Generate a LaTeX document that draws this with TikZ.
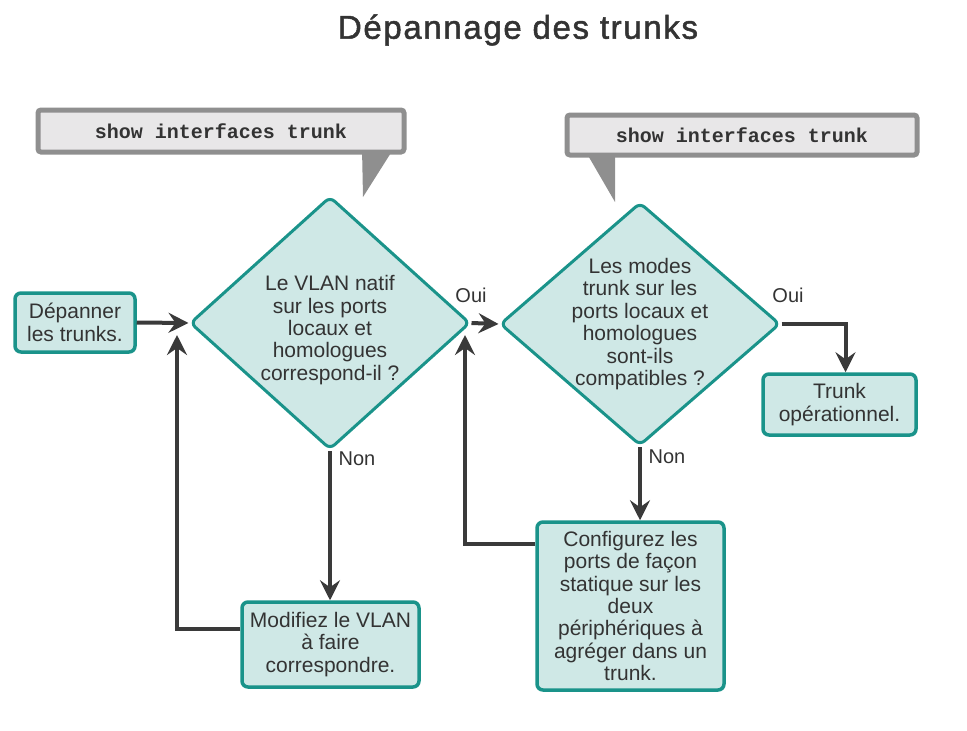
\documentclass[tikz,border=0pt]{standalone}
\usepackage{fontspec}
\setmainfont{Liberation Sans}
\setmonofont{Liberation Mono}
\usetikzlibrary{shapes.geometric,arrows.meta,calc}
\definecolor{teal1}{HTML}{1A938A}
\definecolor{tealfill}{HTML}{CFE8E6}
\definecolor{txt}{HTML}{333333}
\definecolor{arrc}{HTML}{3A3A3A}
\definecolor{calfill}{HTML}{E8E7E8}
\definecolor{calbord}{HTML}{8F8F8F}
\begin{document}
\begin{tikzpicture}[x=1pt,y=-1pt,
  box/.style={draw=teal1,fill=tealfill,line width=3.5pt,rounded corners=6pt,align=center,text=txt,font=\fontsize{21}{22.4}\selectfont,inner sep=0pt},
  dec/.style={diamond,draw=teal1,fill=tealfill,line width=3pt,rounded corners=6pt,inner sep=0pt},
  dtext/.style={align=center,text=txt,font=\fontsize{21}{22.4}\selectfont,inner sep=0pt},
  arr/.style={draw=arrc,line width=4pt,-{Stealth[length=20pt,width=20pt,inset=7pt]}},
  lab/.style={text=txt,font=\fontsize{20}{20}\selectfont,inner sep=0pt},
  callout/.style={draw=calbord,fill=calfill,line width=5pt,rounded corners=3pt,font=\ttfamily\bfseries\fontsize{20}{24}\selectfont,text=txt,inner sep=0pt},
]
\useasboundingbox (0,0) rectangle (967,731);
\node[text=txt,font=\addfontfeature{FakeBold=1.5,LetterSpace=5}\fontsize{33}{36}\selectfont] (title) at (518,30) {Dépannage des trunks};

% callouts
\fill[calbord] (362,148) -- (394,148) -- (363,197) -- cycle;
\node[callout,minimum width=366pt,minimum height=42pt] (c1) at (221,131) {show interfaces trunk};
\fill[calbord] (586,152) -- (615,152) -- (615,202) -- cycle;
\node[callout,minimum width=350pt,minimum height=40pt] (c2) at (742,135) {show interfaces trunk};

% diamonds
\node[dec,minimum width=280pt,minimum height=253pt] (d1) at (330,323) {};
\node[dtext] (t1) at (330,330) {Le VLAN natif\\sur les ports\\locaux et\\homologues\\correspond-il ?};
\node[dec,minimum width=280pt,minimum height=243pt] (d2) at (640,324) {};
\node[dtext] (t2) at (640,324) {Les modes\\trunk sur les\\ports locaux et\\homologues\\sont-ils\\compatibles ?};

% boxes
\node[box,minimum width=120pt,minimum height=59pt] (start) at (75,322.5) {Dépanner\\les trunks.};
\node[box,minimum width=153pt,minimum height=61pt] (trk) at (839.5,404.5) {Trunk\\opérationnel.};
\node[box,minimum width=177pt,minimum height=85pt] (mod) at (330.5,644.5) {Modifiez le VLAN\\à faire\\correspondre.};
\node[box,minimum width=187pt,minimum height=168pt] (cfg) at (630.5,606) {Configurez les\\ports de façon\\statique sur les\\deux\\périphériques à\\agréger dans un\\trunk.};

% connectors
\coordinate (up1) at (177,335);
\coordinate (up2) at (465,335);
\draw[arr] (start.east) -- (d1.west);
\draw[arr] (d1.south) -- (d1.south |- mod.north);
\draw[arr] ($(mod.north west)+(0,29)$) -| (up1);
\draw[arr] (d1.east) -- (d2.west);
\draw[arr] (d2.south) -- (d2.south |- cfg.north);
\draw[arr] ($(cfg.north west)+(0,24)$) -| (up2);
\draw[arr] (d2.east) -| ($(trk.north)+(6,0)$);

% labels
\node[lab] (n1) at (357,459) {Non};
\node[lab] (o1) at (471,295) {Oui};
\node[lab] (n2) at (667,457) {Non};
\node[lab] (o2) at (788,295) {Oui};
\end{tikzpicture}
\end{document}
